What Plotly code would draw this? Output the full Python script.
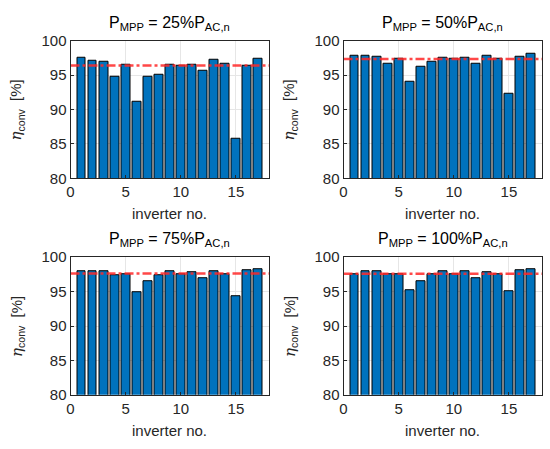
import plotly.graph_objects as go

inverters = list(range(1, 18))
eta_25 = [97.5, 97.05, 96.9, 94.8, 96.45, 91.2, 94.8, 95.0, 96.45, 96.3, 96.45, 95.6, 97.2, 96.7, 85.7, 96.4, 97.4]
eta_50 = [97.8, 97.8, 97.65, 96.7, 97.4, 94.0, 96.25, 96.9, 97.5, 97.4, 97.5, 96.7, 97.8, 97.4, 92.3, 97.65, 98.1]
eta_75 = [97.9, 97.9, 97.9, 97.45, 97.6, 94.9, 96.5, 97.45, 97.9, 97.6, 97.8, 96.95, 97.9, 97.6, 94.3, 98.05, 98.25]
eta_100 = [97.6, 97.9, 97.9, 97.6, 97.6, 95.2, 96.5, 97.6, 97.9, 97.6, 97.9, 96.95, 97.75, 97.6, 95.05, 98.1, 98.3]
ref_lines = [96.4, 97.35, 97.65, 97.6]
titles = ["P<sub>MPP</sub> = 25%P<sub>AC,n</sub>",
          "P<sub>MPP</sub> = 50%P<sub>AC,n</sub>",
          "P<sub>MPP</sub> = 75%P<sub>AC,n</sub>",
          "P<sub>MPP</sub> = 100%P<sub>AC,n</sub>"]
x_ticks = [0, 5, 10, 15]
y_ticks = [80, 85, 90, 95, 100]
x_label = "inverter no."
y_label = "<span style='font-family:DejaVu Serif'><i>η</i></span><sub>conv</sub>  [%]"

series = [eta_25, eta_50, eta_75, eta_100]

W, H = 550, 449
boxes = [(67, 267, 33, 176), (342, 542, 33, 176), (67, 267, 258, 401), (342, 542, 258, 401)]

fig = go.Figure()
layout = dict(width=W, height=H, margin=dict(l=0, r=0, t=0, b=0),
              paper_bgcolor="white", plot_bgcolor="white", showlegend=False,
              font=dict(family="Liberation Sans, Arial, sans-serif", color="#262626"))
annotations = []
axis_color = "#262626"
for i, (vals, ref, title, box) in enumerate(zip(series, ref_lines, titles, boxes)):
    x0, x1, y0, y1 = box
    xa = "x" if i == 0 else f"x{i+1}"
    ya = "y" if i == 0 else f"y{i+1}"
    fig.add_trace(go.Bar(x=inverters, y=vals, width=0.8, base=0,
                         marker=dict(color="#0072BD", line=dict(color="black", width=1)),
                         xaxis=xa, yaxis=ya))
    fig.add_trace(go.Scatter(x=[0, 18], y=[ref, ref], mode="lines",
                             line=dict(color="rgba(255,40,40,0.85)", width=2.5, dash="dashdot"),
                             xaxis=xa, yaxis=ya))
    xdom = [x0 / W, x1 / W]
    ydom = [1 - y1 / H, 1 - y0 / H]
    kx = "xaxis" if i == 0 else f"xaxis{i+1}"
    ky = "yaxis" if i == 0 else f"yaxis{i+1}"
    layout[kx] = dict(domain=xdom, range=[0, 18], anchor=ya, tickvals=x_ticks,
                      showgrid=True, gridcolor="#e6e6e6", gridwidth=1,
                      showline=True, linecolor=axis_color, linewidth=1, mirror=True,
                      ticks="inside", ticklen=3, tickcolor=axis_color,
                      tickfont=dict(size=15, color=axis_color), zeroline=False,
                      fixedrange=True)
    layout[ky] = dict(domain=ydom, range=[80, 100], anchor=xa, tickvals=y_ticks,
                      showgrid=True, gridcolor="#e6e6e6", gridwidth=1,
                      showline=True, linecolor=axis_color, linewidth=1, mirror=True,
                      ticks="inside", ticklen=3, tickcolor=axis_color,
                      tickfont=dict(size=15, color=axis_color), zeroline=False,
                      fixedrange=True)
    cx = (x0 + x1) / 2 / W
    annotations.append(dict(text=title, x=cx, y=1 - (y0 - 18) / H, xref="paper", yref="paper",
                            showarrow=False, font=dict(size=16, color="black"),
                            xanchor="center", yanchor="middle"))
    annotations.append(dict(text=x_label, x=cx, y=1 - (y1 + 37) / H, xref="paper", yref="paper",
                            showarrow=False, font=dict(size=15, color=axis_color),
                            xanchor="center", yanchor="middle"))
    annotations.append(dict(text=y_label, x=(x0 - 54) / W, y=1 - (y0 + y1) / 2 / H,
                            xref="paper", yref="paper", textangle=-90,
                            showarrow=False, font=dict(size=15, color=axis_color),
                            xanchor="center", yanchor="middle"))
layout["annotations"] = annotations
layout["bargap"] = 0
fig.update_layout(**layout)
fig.write_html("out.html", config={"displayModeBar": False},
               post_script="document.body.style.margin='0';document.body.style.overflow='hidden';")
